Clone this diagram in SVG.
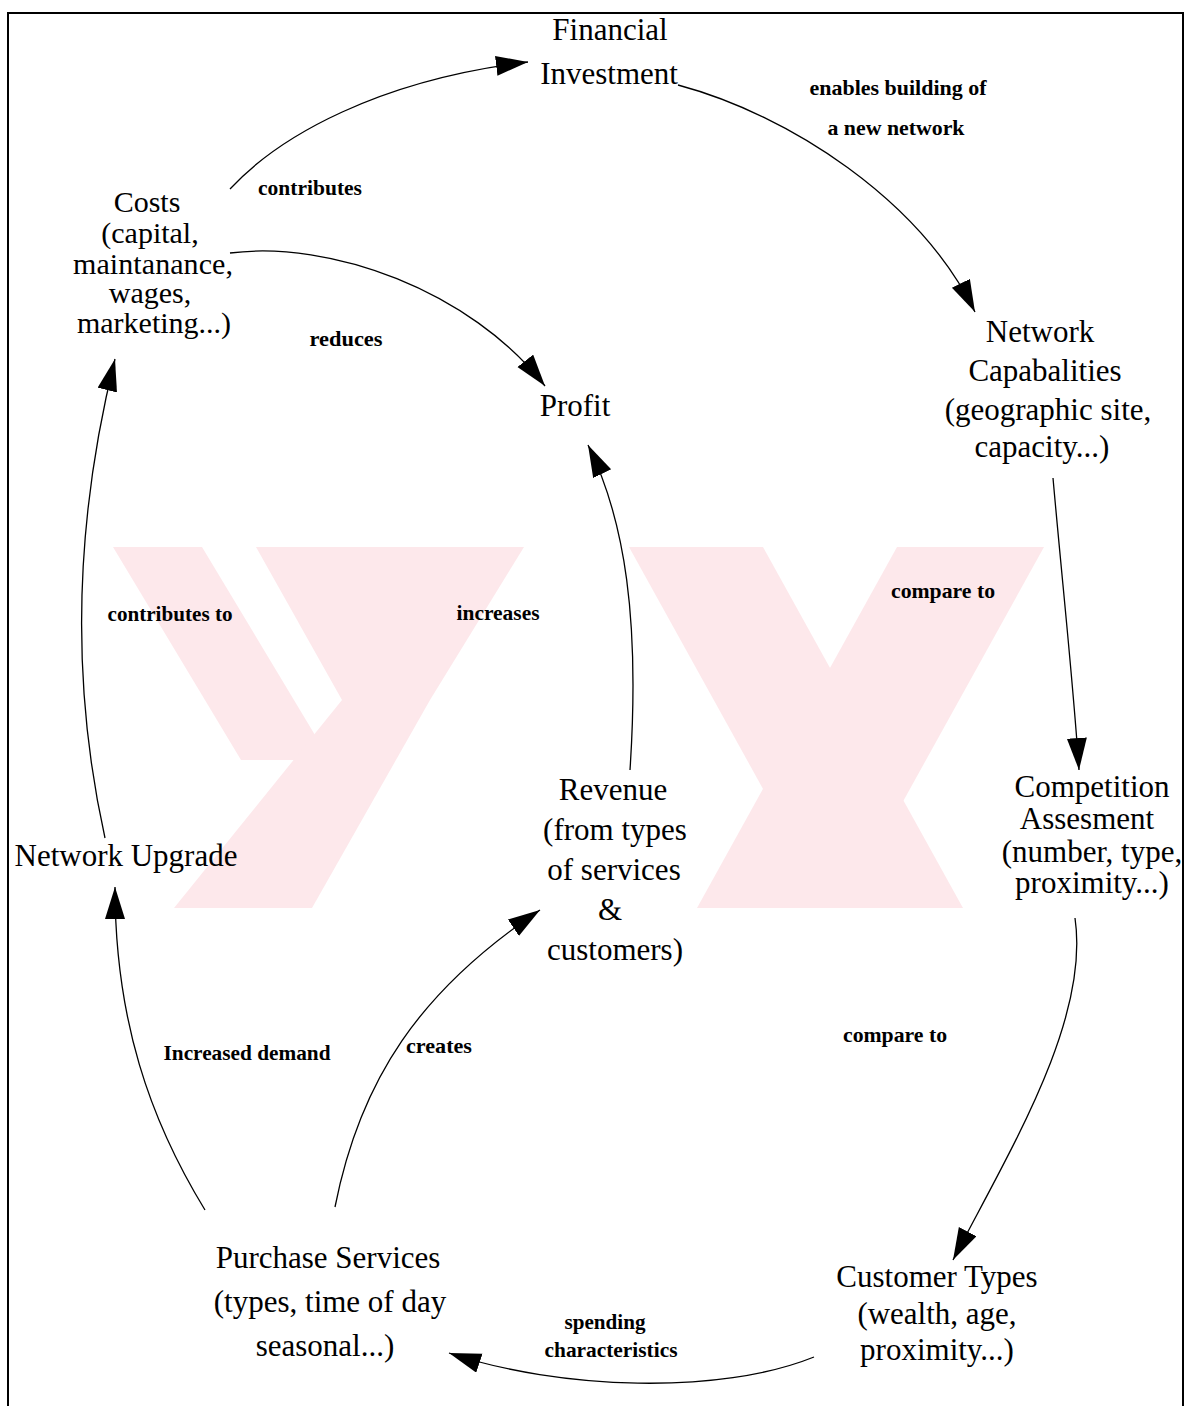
<svg xmlns="http://www.w3.org/2000/svg" width="1188" height="1406" viewBox="0 0 1188 1406">
  <defs>
    <marker id="arrow" markerUnits="userSpaceOnUse" markerWidth="34" markerHeight="22" refX="32" refY="10" orient="auto">
      <path d="M0,0 L32,10 L0,20 Z" fill="#000"/>
    </marker>
    <style>
      .node { font-family: "Liberation Serif", "Times New Roman", serif; font-size: 31px; fill: #000; text-anchor: middle; }
      .small { font-size: 30px; }
      .lbl { font-family: "Liberation Serif", "Times New Roman", serif; font-size: 21px; font-weight: bold; fill: #000; text-anchor: middle; }
      .edge { fill: none; stroke: #000; stroke-width: 1.3; marker-end: url(#arrow); }
      .mark { fill: #fde8eb; }
    </style>
  </defs>

  <rect x="0" y="0" width="1188" height="1406" fill="#fff"/>

  <!-- faint background emblem -->
  <g id="emblem">
    <polygon class="mark" points="113,547 202,547 330,760 241,760"/>
    <polygon class="mark" points="256,547 524,547 430,700 342,700"/>
    <polygon class="mark" points="342,700 430,700 312,908 174,908"/>
    <polygon class="mark" points="629,547 763,547 963,908 829,908"/>
    <polygon class="mark" points="897,547 1044,547 844,908 697,908"/>
  </g>

  <!-- frame -->
  <g id="frame" fill="none" stroke="#000" stroke-width="2">
    <polyline points="8,1406 8,13 1183,13 1183,1406"/>
  </g>

  <!-- connectors -->
  <g id="connectors">
    <path class="edge" d="M230,189 C280,135 380,80 528,62"/>
    <path class="edge" d="M678,85 C790,115 920,200 975,312"/>
    <path class="edge" d="M230,253 C330,240 470,290 545,386"/>
    <path class="edge" d="M105,838 C70,680 75,520 115,359"/>
    <path class="edge" d="M630,770 C640,620 625,520 588,445"/>
    <path class="edge" d="M205,1210 C150,1120 115,1020 115,887"/>
    <path class="edge" d="M335,1207 C360,1080 420,990 540,910"/>
    <path class="edge" d="M1053,478 C1062,580 1073,680 1079,770"/>
    <path class="edge" d="M1075,918 C1090,1020 1010,1150 953,1260"/>
    <path class="edge" d="M814,1357 C720,1395 560,1390 449,1353"/>

    <text class="lbl" x="310" y="195" textLength="104" lengthAdjust="spacingAndGlyphs">contributes</text>
    <text class="lbl" x="898" y="95" textLength="177" lengthAdjust="spacingAndGlyphs">enables building of</text>
    <text class="lbl" x="896" y="135" textLength="137" lengthAdjust="spacingAndGlyphs">a new network</text>
    <text class="lbl" x="346" y="346" textLength="73" lengthAdjust="spacingAndGlyphs">reduces</text>
    <text class="lbl" x="170" y="621" textLength="125" lengthAdjust="spacingAndGlyphs">contributes to</text>
    <text class="lbl" x="498" y="620" textLength="83" lengthAdjust="spacingAndGlyphs">increases</text>
    <text class="lbl" x="943" y="598" textLength="104" lengthAdjust="spacingAndGlyphs">compare to</text>
    <text class="lbl" x="895" y="1042" textLength="104" lengthAdjust="spacingAndGlyphs">compare to</text>
    <text class="lbl" x="247" y="1060" textLength="167" lengthAdjust="spacingAndGlyphs">Increased demand</text>
    <text class="lbl" x="439" y="1053" textLength="66" lengthAdjust="spacingAndGlyphs">creates</text>
    <text class="lbl" x="605" y="1329" textLength="81" lengthAdjust="spacingAndGlyphs">spending</text>
    <text class="lbl" x="611" y="1357" textLength="133" lengthAdjust="spacingAndGlyphs">characteristics</text>
  </g>

  <!-- nodes -->
  <g id="financial-investment">
    <text class="node" x="610" y="40">Financial</text>
    <text class="node" x="609" y="84">Investment</text>
  </g>
  <g id="costs">
    <text class="node small" x="147" y="212">Costs</text>
    <text class="node small" x="150" y="243">(capital,</text>
    <text class="node small" x="153" y="274" textLength="160" lengthAdjust="spacing">maintanance,</text>
    <text class="node small" x="150" y="303">wages,</text>
    <text class="node small" x="154" y="333">marketing...)</text>
  </g>
  <g id="profit">
    <text class="node" x="575" y="416">Profit</text>
  </g>
  <g id="network-capabilities">
    <text class="node" x="1040" y="342">Network</text>
    <text class="node" x="1045" y="381">Capabalities</text>
    <text class="node" x="1048" y="420">(geographic site,</text>
    <text class="node" x="1042" y="457">capacity...)</text>
  </g>
  <g id="competition-assessment">
    <text class="node" x="1092" y="797">Competition</text>
    <text class="node" x="1087" y="829">Assesment</text>
    <text class="node" x="1092" y="862">(number, type,</text>
    <text class="node" x="1092" y="893">proximity...)</text>
  </g>
  <g id="network-upgrade">
    <text class="node" x="126" y="866">Network Upgrade</text>
  </g>
  <g id="revenue">
    <text class="node" x="613" y="800">Revenue</text>
    <text class="node" x="615" y="840">(from types</text>
    <text class="node" x="614" y="880">of services</text>
    <text class="node" x="610" y="920">&amp;</text>
    <text class="node" x="615" y="960">customers)</text>
  </g>
  <g id="purchase-services">
    <text class="node" x="328" y="1268">Purchase Services</text>
    <text class="node" x="330" y="1312">(types, time of day</text>
    <text class="node" x="325" y="1356">seasonal...)</text>
  </g>
  <g id="customer-types">
    <text class="node" x="937" y="1287">Customer Types</text>
    <text class="node" x="937" y="1324">(wealth, age,</text>
    <text class="node" x="937" y="1360">proximity...)</text>
  </g>
</svg>
